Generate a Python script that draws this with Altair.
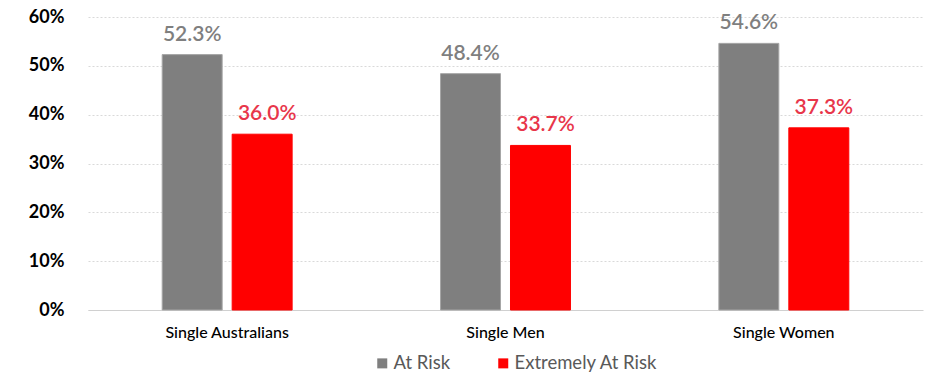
import altair as alt
import pandas as pd

categories = ["Single Australians", "Single Men", "Single Women"]
series = ["At Risk", "Extremely At Risk"]
at_risk = [0.523, 0.484, 0.546]
extremely = [0.360, 0.337, 0.373]

rows = []
for i, c in enumerate(categories):
    rows.append({"cat": c, "series": series[0], "value": at_risk[i]})
    rows.append({"cat": c, "series": series[1], "value": extremely[i]})
df = pd.DataFrame(rows)

FONT = "Lato"
color_scale = alt.Scale(domain=series, range=["#7f7f7f", "#ff0000"])

xscale = alt.Scale(paddingInner=0.5, paddingOuter=0.25)
xoscale = alt.Scale(paddingInner=0.1429, paddingOuter=0.066)

x = alt.X("cat:N", sort=categories, title=None, scale=xscale,
          axis=alt.Axis(labelAngle=0, labelFontSize=16, labelColor="#000000",
                        labelFont=FONT, labelFontWeight=500, ticks=False,
                        domainColor="#d0d0d0", labelPadding=14, domainWidth=1))
xo = alt.XOffset("series:N", sort=series, scale=xoscale)

bars = alt.Chart(df).mark_bar(strokeWidth=1).encode(
    x=x,
    xOffset=xo,
    y=alt.Y("value:Q", title=None,
            scale=alt.Scale(domain=[0, 0.6]),
            axis=alt.Axis(format=".0%", values=[0, 0.1, 0.2, 0.3, 0.4, 0.5, 0.6],
                          labelFontSize=18, labelFont=FONT, labelFontWeight="bold",
                          labelColor="#000000", ticks=False, domain=False,
                          labelPadding=24, gridColor="#d9d9d9", gridDash=[2, 2],
                          gridWidth=1)),
    color=alt.Color("series:N", scale=color_scale, sort=series, title=None,
                    legend=alt.Legend(orient="none", direction="horizontal",
                                      legendX=285, legendY=337,
                                      symbolType="square", symbolSize=100,
                                      symbolStrokeWidth=0,
                                      labelFontSize=18.5, labelFont=FONT,
                                      labelColor="#595959", columnPadding=43,
                                      labelOffset=2)),
    stroke=alt.Stroke("series:N", scale=alt.Scale(domain=series, range=["#a6a6a6", "#ff0000"]),
                      legend=None),
)

def label_layer(name, col, dx):
    return alt.Chart(df).transform_filter(alt.datum.series == name).mark_text(
        baseline="alphabetic", dy=-14, dx=dx, fontSize=21, font=FONT,
        fontWeight=600, color=col).encode(
        x=alt.X("cat:N", sort=categories, scale=xscale),
        xOffset=alt.XOffset("series:N", sort=series, scale=xoscale),
        y="value:Q",
        text=alt.Text("value:Q", format=".1%"),
    )

labels_a = label_layer(series[0], "#7f7f7f", 0)
labels_b = label_layer(series[1], "#e8364a", 5)

chart = alt.layer(bars, labels_a, labels_b).properties(
    width=835, height=293,
    autosize=alt.AutoSizeParams(type="none"),
    padding={"left": 88, "top": 17, "right": 22, "bottom": 67},
).configure_view(stroke=None)

chart.save("out.html", embed_options={"renderer": "svg", "actions": False})
